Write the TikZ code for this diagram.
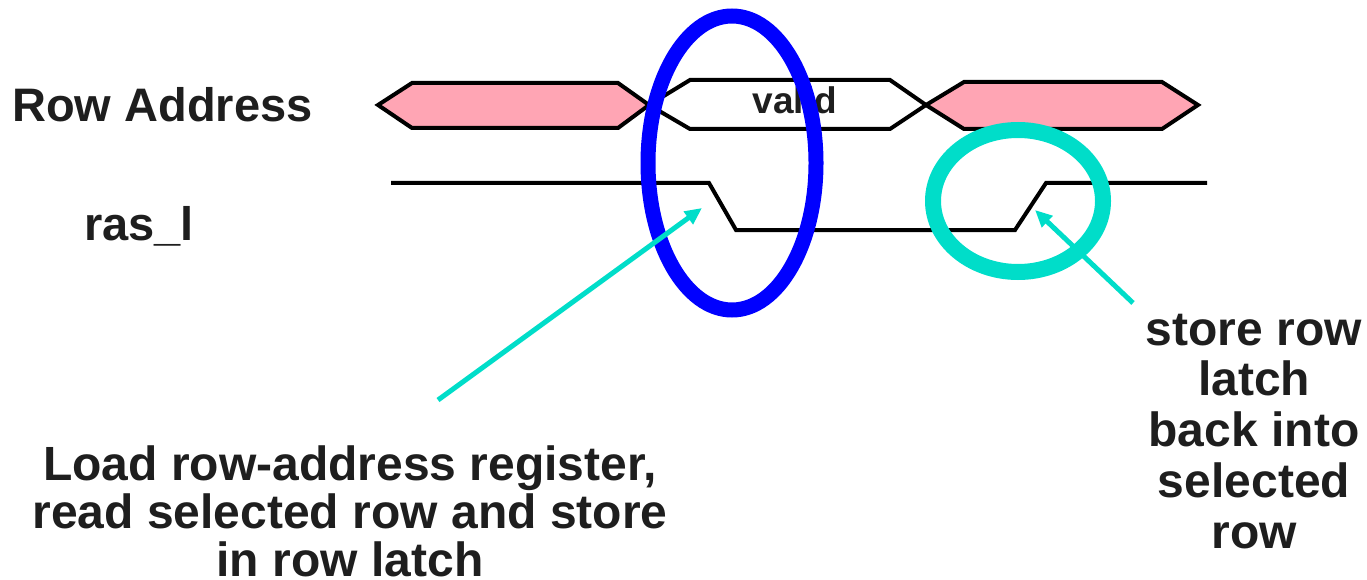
\documentclass[tikz,border=0pt]{standalone}
\usepackage{fontspec}
\setmainfont{Liberation Sans}
\usetikzlibrary{arrows.meta}
\definecolor{busfill}{HTML}{FFA5B4}
\definecolor{hilite}{HTML}{00DDC9}
\definecolor{ringblue}{HTML}{0000FF}
\definecolor{ink}{HTML}{1E1E1E}
\tikzset{
  bus/.style={draw=black, line width=4pt, line join=miter},
  wave/.style={draw=black, line width=4pt, line join=miter},
  lbl/.style={inner sep=0pt, text=ink, font=\bfseries\fontsize{47}{50}\selectfont},
  note/.style={inner sep=0pt, text=ink, align=center},
  pointer/.style={draw=hilite, line width=5pt, -{Triangle[length=17pt,width=15pt]}},
}
\begin{document}
\begin{tikzpicture}[x=1pt,y=-1pt]
\useasboundingbox (0,0) rectangle (1367,580);

% signal names
\node[lbl, anchor=base west] (rowaddr) at (12,122) {Row Address};
\node[lbl, anchor=base west] (ras) at (84,240) {ras\_l};

% address bus: invalid / valid / invalid
\path[bus, fill=busfill] (378,105) -- (412,83) -- (618,83) -- (649,105) -- (618,128) -- (412,128) -- cycle;
\path[bus, fill=white]   (649,105) -- (690,80) -- (890,80) -- (926,105) -- (890,129) -- (690,129) -- cycle;
\path[bus, fill=busfill] (926,105) -- (964,82) -- (1162,82) -- (1198,105) -- (1162,129) -- (964,129) -- cycle;
\node[inner sep=0pt, text=ink, font=\bfseries\fontsize{37}{40}\selectfont, anchor=base] (valid) at (795,114) {valid};

% ras_l waveform
\draw[wave] (391,183) -- (709,183) -- (736,230) -- (1015,230) -- (1046,183) -- (1207,183);

% highlight rings
\draw[ringblue, line width=15pt] (732,163) ellipse [x radius=84, y radius=147];
\draw[hilite, line width=16pt] (1018,201) ellipse [x radius=85, y radius=71];

% explanations (base anchor sits on the last line)
\node[note, font=\bfseries\fontsize{48}{48}\selectfont, text depth=0pt, anchor=base] (loadtxt) at (350,576)
  {Load row-address register,\\read selected row and store\\in row latch};
\node[note, font=\bfseries\fontsize{48}{50.75}\selectfont, anchor=base] (storetxt) at (1254,548)
  {store row\\latch\\back into\\selected\\row};

% pointers from the explanations to the edges
\coordinate (loadtail) at (438,400);
\coordinate (falledge) at (702,208);
\coordinate (storetail) at (1133,303);
\coordinate (riseedge) at (1035,210);
\draw[pointer] (loadtail) -- (falledge);
\draw[pointer] (storetail) -- (riseedge);
\end{tikzpicture}
\end{document}
